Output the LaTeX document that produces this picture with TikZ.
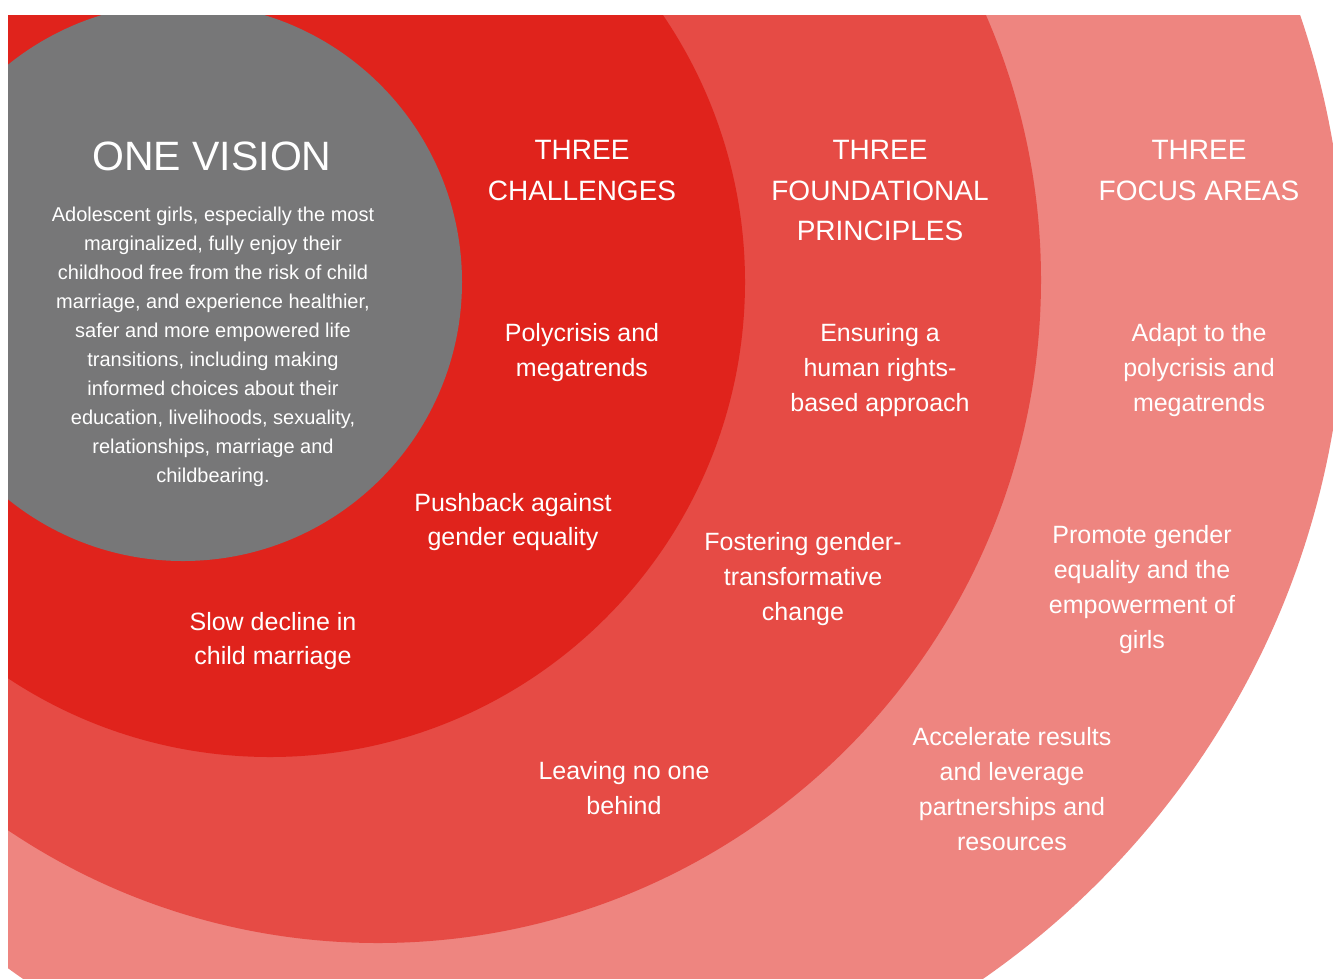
\documentclass[tikz,border=0pt]{standalone}
\usepackage{fontspec}
\setmainfont{Liberation Sans}
\definecolor{visgray}{HTML}{777778}
\definecolor{chalred}{HTML}{E0231C}
\definecolor{prinred}{HTML}{E64B45}
\definecolor{focpink}{HTML}{EE8580}
\begin{document}
\begin{tikzpicture}[x=1pt,y=-1pt,
  txt/.style={text=white, align=center, inner sep=0pt, font=\fontsize{25}{34.7}\selectfont},
  ttl/.style={text=white, align=center, inner sep=0pt, font=\fontsize{28}{40.5}\selectfont},
  para/.style={text=white, align=center, inner sep=0pt, font=\fontsize{20}{29}\selectfont},
  big/.style={text=white, align=center, inner sep=0pt, font=\fontsize{41}{48}\selectfont}]
\fill[white] (0,0) rectangle (1333,978);
\useasboundingbox (0,0) rectangle (1333,978);
\begin{scope}
  \clip (8,15) rectangle (1333,978);
  \fill[focpink] (503,287) circle[radius=842pt];
  \fill[prinred] (378,280) circle[radius=663pt];
  \fill[chalred] (270,282) circle[radius=475pt];
  \fill[visgray] (183,282) circle[radius=279pt];
\end{scope}
% One vision
\node[big] (vision) at (212,156) {ONE VISION};
\node[para] (visiontext) at (213,346.5) {Adolescent girls, especially the most\\marginalized, fully enjoy their\\childhood free from the risk of child\\marriage, and experience healthier,\\safer and more empowered life\\transitions, including making\\informed choices about their\\education, livelihoods, sexuality,\\relationships, marriage and\\childbearing.};
% Titles
\node[ttl] (chal) at (582,170.5) {THREE\\CHALLENGES};
\node[ttl] (prin) at (880,190.5) {THREE\\FOUNDATIONAL\\PRINCIPLES};
\node[ttl] (focus) at (1199,170.5) {THREE\\FOCUS AREAS};
% Challenges
\node[txt] (c1) at (582,352.5) {Polycrisis and\\megatrends};
\node[txt] (c2) at (513,522) {Pushback against\\gender equality};
\node[txt] (c3) at (273,641) {Slow decline in\\child marriage};
% Principles
\node[txt] (p1) at (880,370) {Ensuring a\\human rights-\\based approach};
\node[txt] (p2) at (803,579) {Fostering gender-\\transformative\\change};
\node[txt] (p3) at (624,788) {Leaving no one\\behind};
% Focus areas
\node[txt] (f1) at (1199,370) {Adapt to the\\polycrisis and\\megatrends};
\node[txt] (f2) at (1142,589.5) {Promote gender\\equality and the\\empowerment of\\girls};
\node[txt] (f3) at (1012,789) {Accelerate results\\and leverage\\partnerships and\\resources};
\end{tikzpicture}
\end{document}
